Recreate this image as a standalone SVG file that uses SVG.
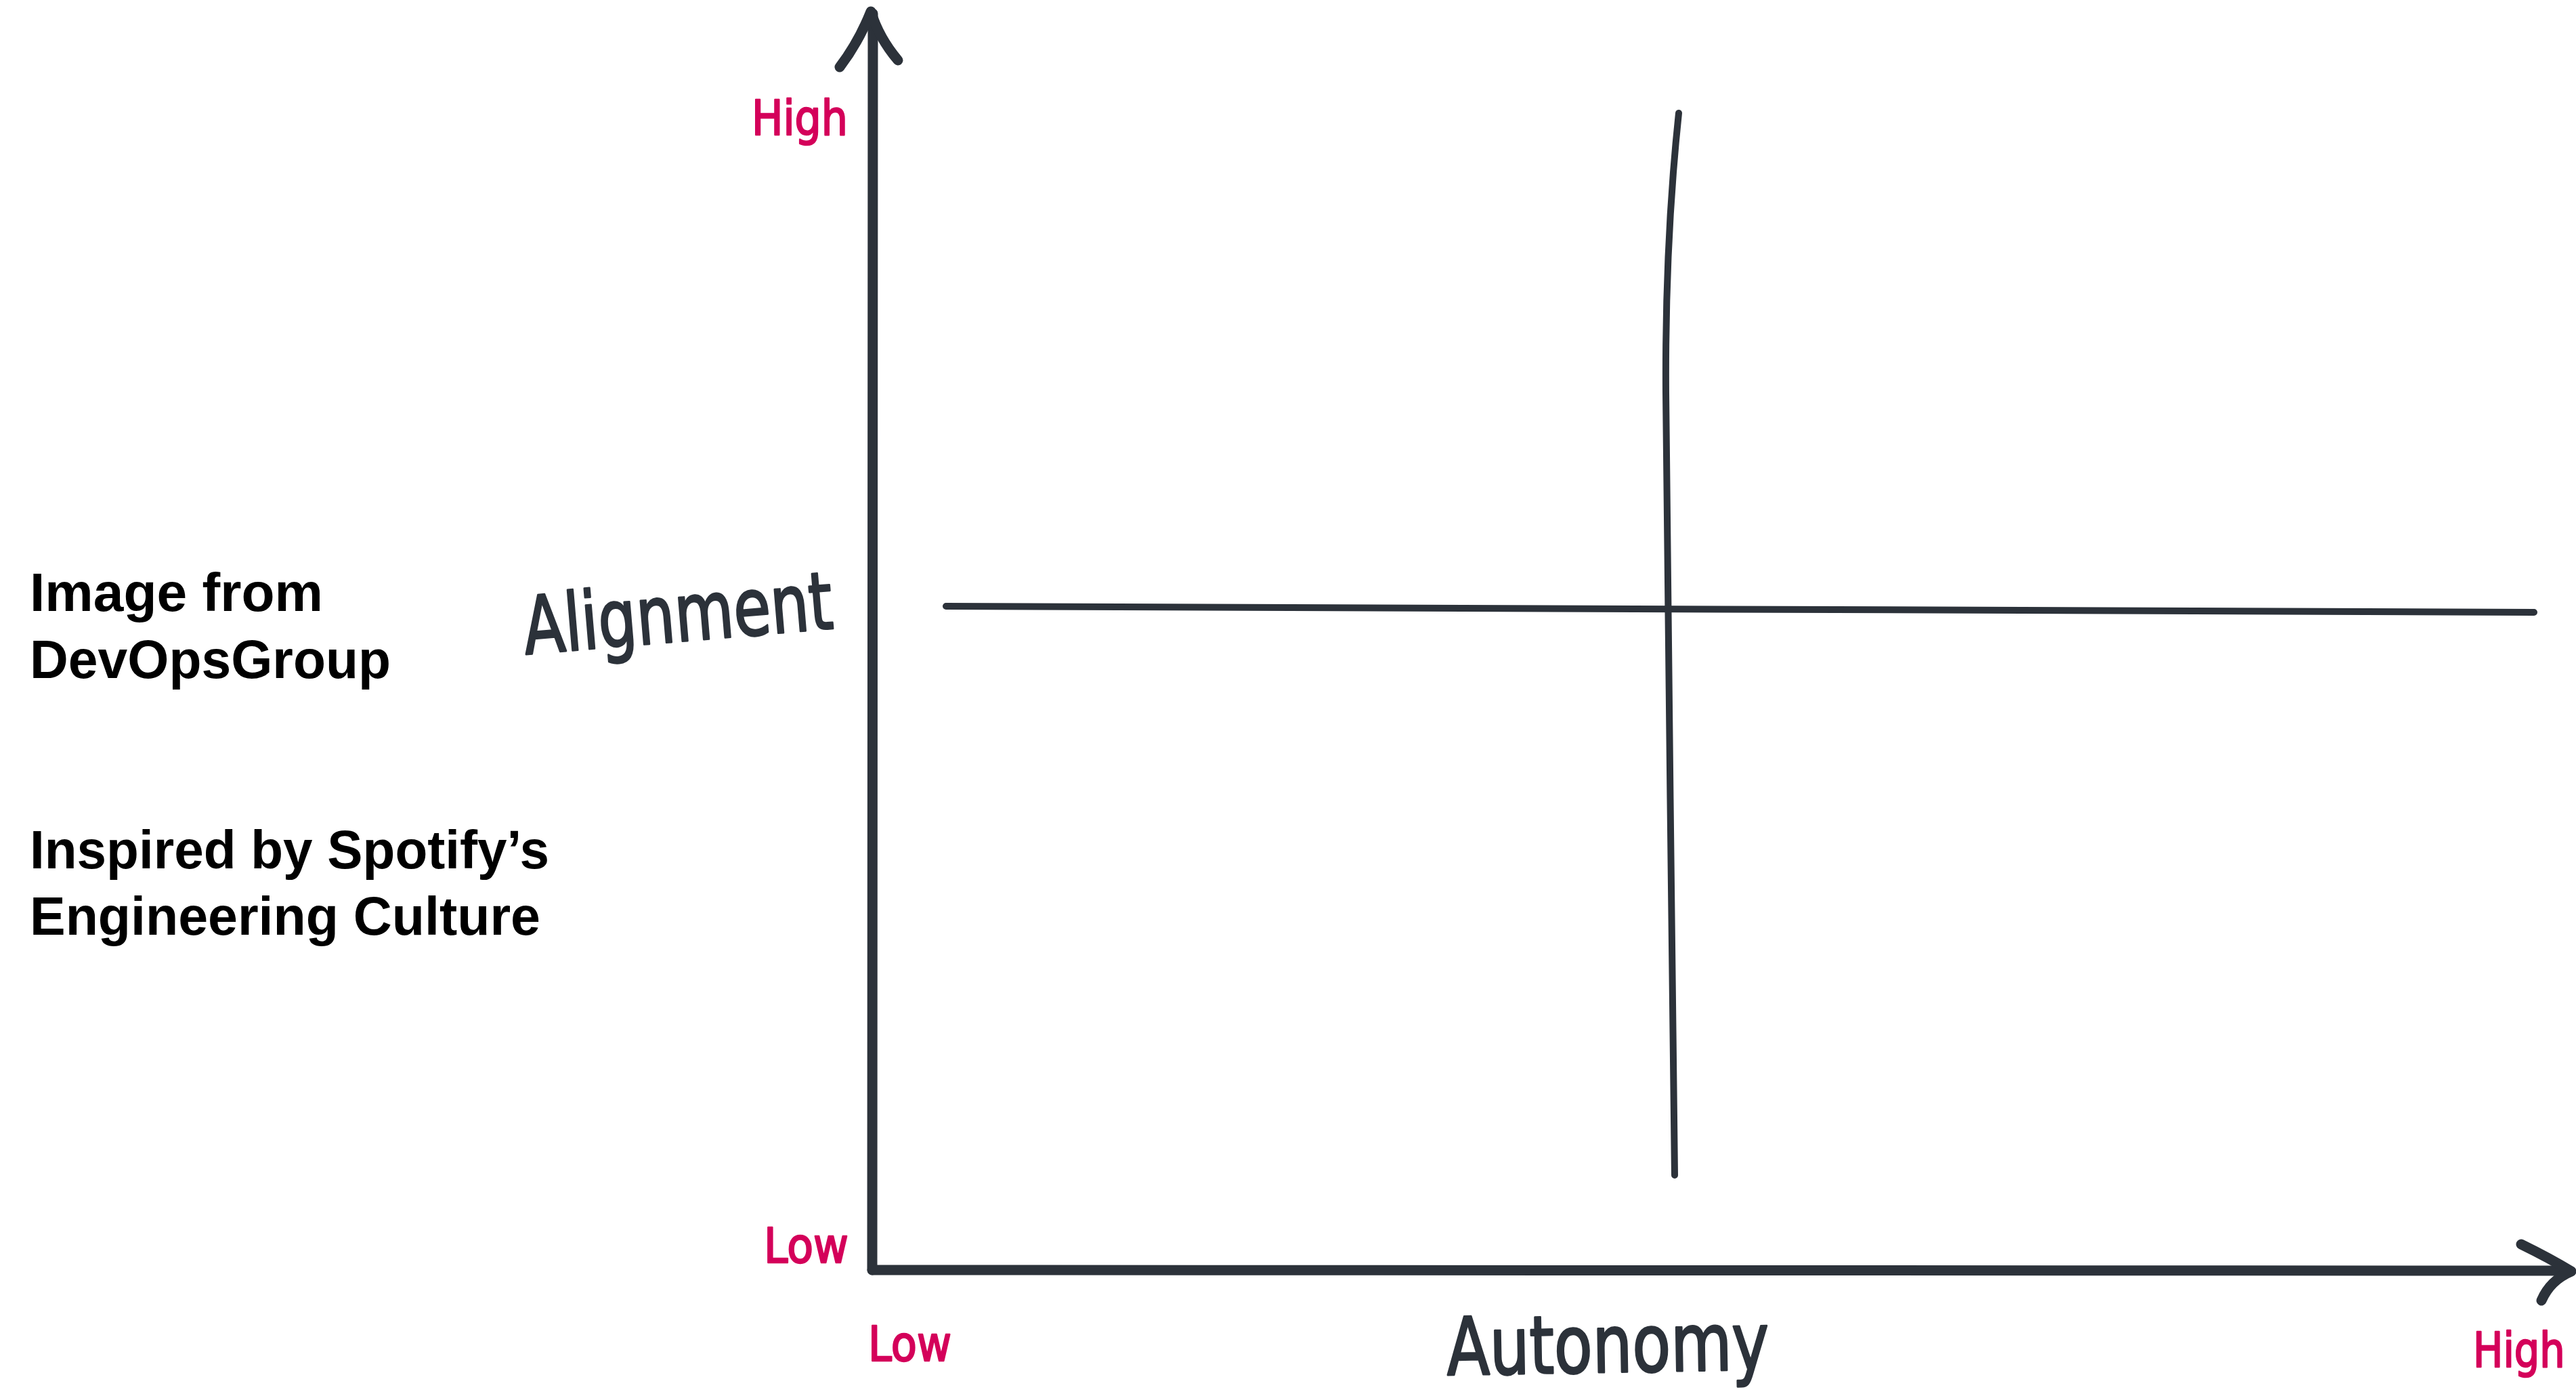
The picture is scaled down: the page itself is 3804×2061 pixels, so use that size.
<svg xmlns="http://www.w3.org/2000/svg" width="3804" height="2061" viewBox="0 0 3804 2061">
  <style>
    .axis { fill: none; stroke: #2C323A; stroke-width: 15; stroke-linecap: round; stroke-linejoin: round; }
    .mid { fill: none; stroke: #2C323A; stroke-width: 10; stroke-linecap: round; }
    .lvl { font-family: "DejaVu Sans", "Noto Sans", sans-serif; fill: #D4005A; stroke: #D4005A; stroke-width: 2.5; stroke-linejoin: round; font-size: 72px; }
    .ax { font-family: "DejaVu Sans", "Noto Sans", sans-serif; fill: #2C323A; stroke: #2C323A; stroke-width: 3; stroke-linejoin: round; font-size: 118px; }
    .note { font-family: "Liberation Sans", Arial, sans-serif; font-weight: bold; fill: #000000; font-size: 79px; }
  </style>
  <rect width="3804" height="2061" fill="#FFFFFF"/>
  <g id="connectors">
    <path id="y-axis" class="axis" d="M1288,1875 L1289,20"/>
    <path id="y-arrowhead" class="axis" d="M1240,99 Q1268,62 1286,17 Q1298,56 1326,89"/>
    <path id="x-axis" class="axis" d="M1288,1875 L3794,1876"/>
    <path id="x-arrowhead" class="axis" d="M3723,1837 Q3766,1858 3797,1877 Q3766,1890 3753,1920"/>
    <path id="h-divider" class="mid" d="M1397,895 L3742,904"/>
    <path id="v-divider" class="mid" d="M2479,167 C2466,290 2459,420 2460,580 C2462,900 2470,1400 2473,1735"/>
  </g>
  <g id="label-high-y">
    <text class="lvl" x="1110" y="199" textLength="142" lengthAdjust="spacingAndGlyphs">High</text>
  </g>
  <g id="label-low-y">
    <text class="lvl" x="1128" y="1864" textLength="125" lengthAdjust="spacingAndGlyphs">Low</text>
  </g>
  <g id="label-low-x">
    <text class="lvl" x="1282" y="2009" textLength="123" lengthAdjust="spacingAndGlyphs">Low</text>
  </g>
  <g id="label-high-x" transform="translate(3652,2018) scale(0.82,1)">
    <text class="lvl" x="0" y="0">High</text>
  </g>
  <g id="label-alignment">
    <text class="ax" x="776" y="966" transform="rotate(-4.8 776 966)" textLength="458" lengthAdjust="spacingAndGlyphs">Alignment</text>
  </g>
  <g id="label-autonomy">
    <text class="ax" x="2137" y="2030" transform="rotate(-1 2137 2030)" textLength="476" lengthAdjust="spacingAndGlyphs">Autonomy</text>
  </g>
  <g id="note-source">
    <text class="note" x="44" y="902" textLength="433" lengthAdjust="spacingAndGlyphs">Image from</text>
    <text class="note" x="44" y="1001" textLength="533" lengthAdjust="spacingAndGlyphs">DevOpsGroup</text>
  </g>
  <g id="note-inspired">
    <text class="note" x="44" y="1282" textLength="767" lengthAdjust="spacingAndGlyphs">Inspired by Spotify’s</text>
    <text class="note" x="44" y="1380" textLength="754" lengthAdjust="spacingAndGlyphs">Engineering Culture</text>
  </g>
</svg>
